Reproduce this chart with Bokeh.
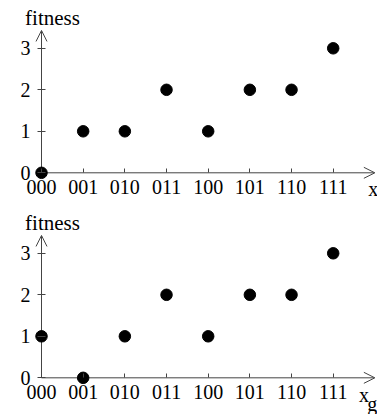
from bokeh.plotting import figure
from bokeh.models import (LinearAxis, FixedTicker, Arrow, OpenHead, Label,
                          ColumnDataSource, Range1d)
from bokeh.layouts import column
from bokeh.embed import file_html
from bokeh.resources import INLINE

# ---- data ----
codes = ["000", "001", "010", "011", "100", "101", "110", "111"]
fitness_x = [0, 1, 1, 2, 1, 2, 2, 3]
fitness_xg = [1, 0, 1, 2, 1, 2, 2, 3]
y_ticks = [0, 1, 2, 3]
y_label = "fitness"

FONT = "Liberation Serif"
LINE = "#444444"
W = 377


def panel(values, height, y_start, y_end, xlabels):
    xs = list(range(len(codes)))
    p = figure(width=W, height=height, output_backend="svg", toolbar_location=None,
               x_axis_type=None, y_axis_type=None,
               x_range=Range1d(-0.984, 8.063), y_range=Range1d(y_start, y_end),
               min_border=0, outline_line_color=None)
    p.grid.visible = False

    # y axis
    ya = LinearAxis(fixed_location=0, ticker=FixedTicker(ticks=y_ticks))
    ya.axis_line_color = None
    ya.major_tick_in = 4
    ya.major_tick_out = 4
    ya.major_tick_line_color = LINE
    ya.minor_tick_line_color = None
    ya.major_label_standoff = 7
    ya.major_label_text_font = FONT
    ya.major_label_text_font_size = "20px"
    ya.major_label_text_color = "black"
    p.add_layout(ya, "left")

    # x axis
    xa = LinearAxis(fixed_location=0, ticker=FixedTicker(ticks=xs),
                    major_label_overrides={i: c for i, c in enumerate(codes)})
    xa.axis_line_color = None
    xa.major_tick_in = 4
    xa.major_tick_out = 0
    xa.major_tick_line_color = LINE
    xa.minor_tick_line_color = None
    xa.major_label_standoff = 7
    xa.major_label_text_font = FONT
    xa.major_label_text_font_size = "20px"
    xa.major_label_text_color = "black"
    p.add_layout(xa, "below")

    # axis lines with open arrow heads
    p.add_layout(Arrow(end=OpenHead(size=11, line_color=LINE, line_width=1),
                       x_start=0, y_start=0, x_end=0, y_end=3.43,
                       line_color=LINE, line_width=1, level="underlay"))
    p.add_layout(Arrow(end=OpenHead(size=11, line_color=LINE, line_width=1),
                       x_start=0, y_start=0, x_end=8.0, y_end=0,
                       line_color=LINE, line_width=1, level="underlay"))

    src = ColumnDataSource(dict(x=xs, y=values))
    p.scatter("x", "y", source=src, size=11.5, color="black")

    p.add_layout(Label(x=0, y=3.43, x_offset=11, y_offset=12, text=y_label,
                       text_align="center", text_baseline="alphabetic",
                       text_font=FONT, text_font_size="21px", text_color="black"))
    for (t, xx, yo) in xlabels:
        p.add_layout(Label(x=xx, y=0, y_offset=yo, text=t, text_align="center",
                           text_baseline="alphabetic", text_font=FONT,
                           text_font_size="20px", text_color="black"))
    return p


p1 = panel(fitness_x, 205, -0.788, 4.152, [("x", 7.96, -16)])
p2 = panel(fitness_xg, 209, -0.884, 4.152, [("x", 7.74, -17.5), ("g", 7.94, -26.5)])

layout = column(p1, p2, spacing=0)
open("out.html", "w").write(file_html(layout, INLINE))
